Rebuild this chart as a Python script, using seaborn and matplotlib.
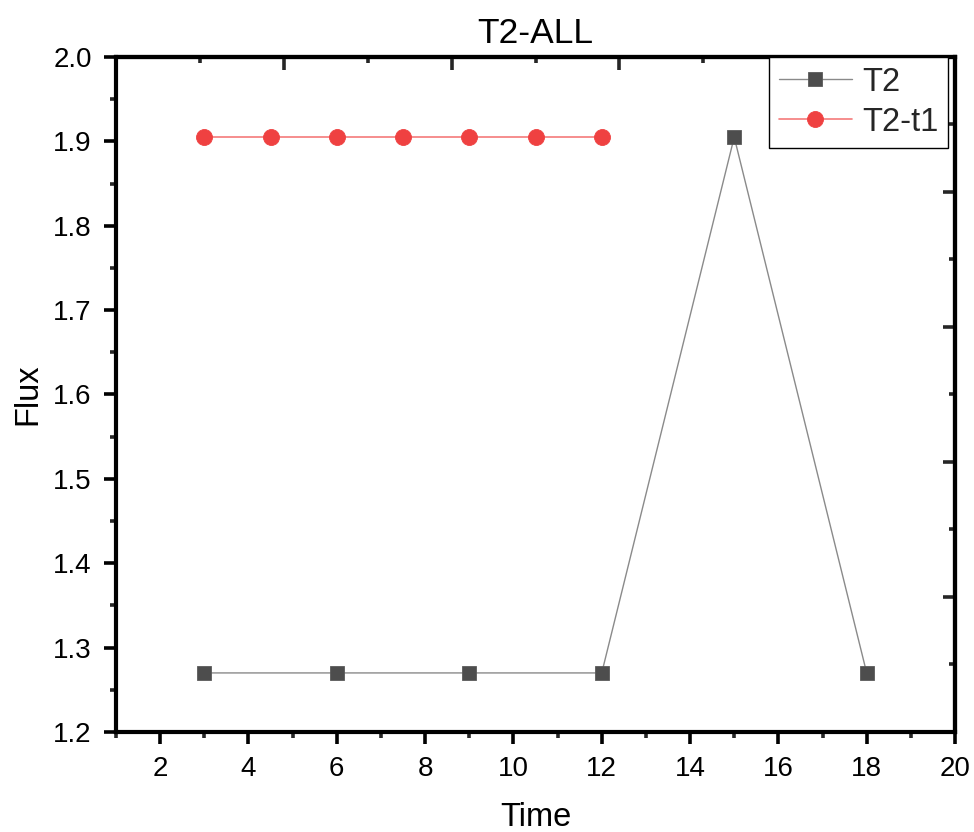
import numpy as np
import pandas as pd
import matplotlib
matplotlib.use("Agg")
import matplotlib.pyplot as plt
from matplotlib.ticker import MultipleLocator
import seaborn as sns

# Series values
t2_time = [3, 6, 9, 12, 15, 18]
t2_flux = [1.27, 1.27, 1.27, 1.27, 1.905, 1.27]
t2t1_time = [3, 4.5, 6, 7.5, 9, 10.5, 12]
t2t1_flux = [1.905, 1.905, 1.905, 1.905, 1.905, 1.905, 1.905]

title = "T2-ALL"
x_label = "Time"
y_label = "Flux"
series_names = ["T2", "T2-t1"]

sns.set_theme(style="ticks")
plt.rcParams["font.family"] = ["Liberation Sans", "DejaVu Sans"]

fig = plt.figure(figsize=(9.74, 8.32), dpi=100)
ax = fig.add_axes([0.1191, 0.1202, 0.8614, 0.8113])

df_t2 = pd.DataFrame({"Time": t2_time, "Flux": t2_flux})
df_t2t1 = pd.DataFrame({"Time": t2t1_time, "Flux": t2t1_flux})

sns.lineplot(data=df_t2, x="Time", y="Flux", ax=ax, color="#8a8a8a", linewidth=1.0,
             marker="s", markersize=10, markerfacecolor="#4d4d4d",
             markeredgecolor="#5a5a5a", markeredgewidth=0.6, label=series_names[0])
sns.lineplot(data=df_t2t1, x="Time", y="Flux", ax=ax, color="#f57a7a", linewidth=1.2,
             marker="o", markersize=11.5, markerfacecolor="#ef4141",
             markeredgecolor="#ef4141", markeredgewidth=0.6, label=series_names[1])

ax.set_xlim(1, 20)
ax.set_ylim(1.2, 2.0)
ax.xaxis.set_major_locator(MultipleLocator(2))
ax.xaxis.set_minor_locator(MultipleLocator(1))
ax.yaxis.set_major_locator(MultipleLocator(0.1))
ax.yaxis.set_minor_locator(MultipleLocator(0.05))
ax.yaxis.set_major_formatter(matplotlib.ticker.FormatStrFormatter("%.1f"))

for s in ax.spines.values():
    s.set_linewidth(3)
    s.set_color("black")
    s.set_visible(True)

ax.tick_params(which="major", direction="out", length=8.5, width=2.6, labelsize=20,
               pad=9, colors="black", top=False, right=False)
ax.tick_params(which="minor", direction="out", length=4.5, width=2.6,
               top=False, right=False)

# Independent inward ticks on the top and right edges
sec_x = ax.secondary_xaxis("top", functions=(lambda x: (x - 1) / 19 * 5,
                                             lambda u: u * 19 / 5 + 1))
sec_x.xaxis.set_major_locator(MultipleLocator(1))
sec_x.xaxis.set_minor_locator(MultipleLocator(0.5))
sec_x.tick_params(which="major", direction="in", length=9, width=2.6, labeltop=False)
sec_x.tick_params(which="minor", direction="in", length=4.5, width=2.6)
sec_x.spines["top"].set_linewidth(3)

sec_y = ax.secondary_yaxis("right", functions=(lambda y: (y - 1.2) / 0.8 * 5,
                                               lambda u: u * 0.8 / 5 + 1.2))
sec_y.yaxis.set_major_locator(MultipleLocator(1))
sec_y.yaxis.set_minor_locator(MultipleLocator(0.5))
sec_y.tick_params(which="major", direction="in", length=9, width=2.6, labelright=False)
sec_y.tick_params(which="minor", direction="in", length=4.5, width=2.6)
sec_y.spines["right"].set_linewidth(3)

ax.set_title(title, fontsize=25.5, pad=10, color="black")
ax.set_xlabel(x_label, fontsize=23.5, color="black")
ax.set_ylabel(y_label, fontsize=23.5, color="black")
ax.xaxis.set_label_coords(0.5, -0.103)
ax.yaxis.set_label_coords(-0.086, 0.5)

leg = ax.legend(loc="upper right", bbox_to_anchor=(0.9917, 1.0), borderaxespad=0,
                fontsize=23.5, frameon=True, fancybox=False, framealpha=1,
                edgecolor="black", handlelength=2.25, handletextpad=0.3,
                borderpad=0.3, labelspacing=0.28)
leg.get_frame().set_linewidth(1.0)

fig.savefig("out.png", dpi=100)
